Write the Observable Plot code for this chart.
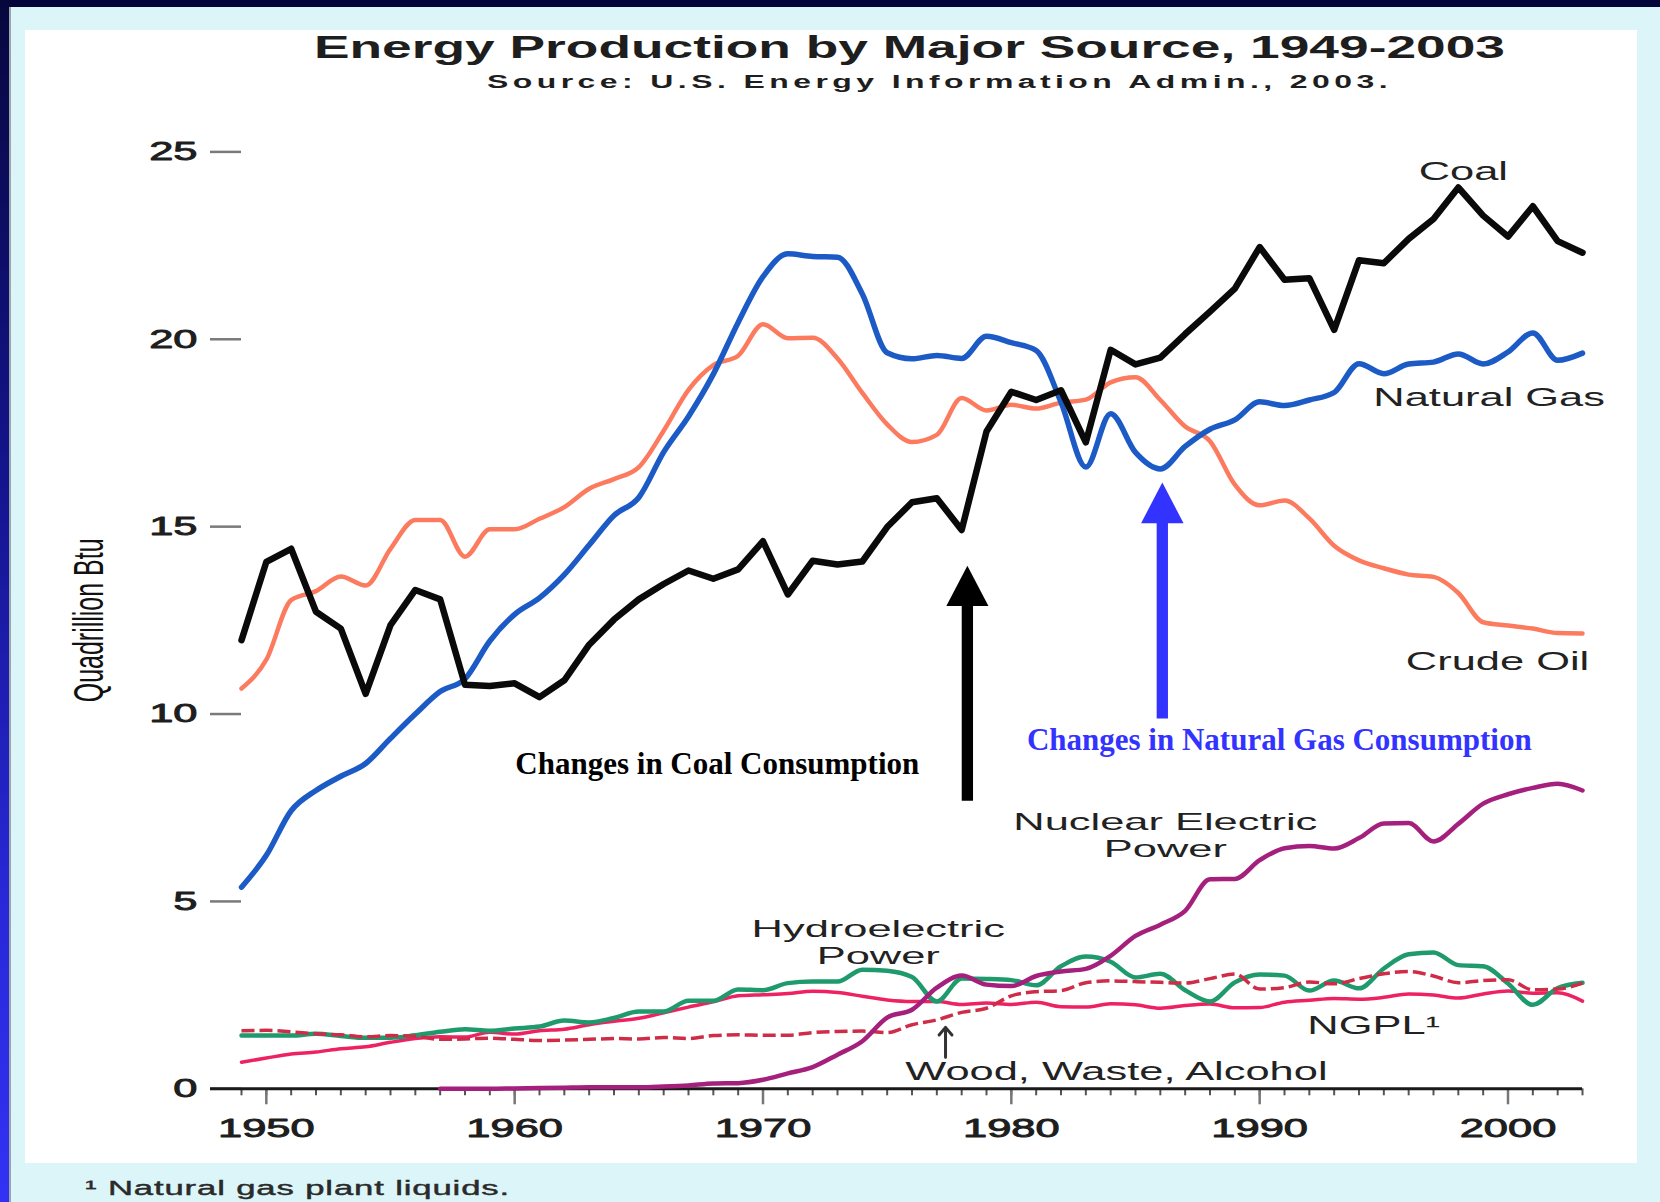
<!DOCTYPE html>
<html>
<head>
<meta charset="utf-8">
<script src="https://cdn.jsdelivr.net/npm/d3@7"></script>
<script src="https://cdn.jsdelivr.net/npm/@observablehq/plot@0.6"></script>
<style>
  html, body { margin: 0; padding: 0; }
  body { width: 1660px; height: 1202px; position: relative; overflow: hidden; background: #04043a;
         font-family: "Liberation Sans", Arial, Helvetica, sans-serif; }
  #leftbar { position: absolute; left: 0; top: 0; width: 9px; height: 1202px;
             background: linear-gradient(#07073e 0%, #14148e 40%, #2828d8 75%, #3232f4 100%); }
  #panel { position: absolute; left: 9px; top: 7px; width: 1651px; height: 1195px; background: #dbf5f8;
           border-left: 2px solid #9aa6a8; box-sizing: border-box; }
  #white { position: absolute; left: 25px; top: 30px; width: 1612px; height: 1133px; background: #ffffff; }
  .txt { position: absolute; white-space: nowrap; transform-origin: 0 50%; color: #1e1e1e; }
  #title { top: 32px; font-size: 31px; line-height: 31px; font-weight: bold; }
  #subtitle { top: 72.6px; font-size: 18px; line-height: 18px; font-weight: bold; letter-spacing: 2.5px; }
  #foot { top: 1178px; font-size: 20px; line-height: 20px; letter-spacing: 0.5px; color: #2a2a2a;
          -webkit-text-stroke: 0.4px #2a2a2a; }
  #chart { position: absolute; left: 25px; top: 110px; width: 1612px; height: 1052px; }
</style>
</head>
<body>
<div id="leftbar"></div>
<div id="panel"></div>
<div id="white"></div>
<div id="title" class="txt">Energy Production by Major Source, 1949-2003</div>
<div id="subtitle" class="txt">Source: U.S. Energy Information Admin., 2003.</div>
<div id="chart"></div>
<div id="foot" class="txt">¹ Natural gas plant liquids.</div>

<script>
// ---------------- data (quadrillion Btu) ----------------
const years = [1949,1950,1951,1952,1953,1954,1955,1956,1957,1958,
               1959,1960,1961,1962,1963,1964,1965,1966,1967,1968,
               1969,1970,1971,1972,1973,1974,1975,1976,1977,1978,
               1979,1980,1981,1982,1983,1984,1985,1986,1987,1988,
               1989,1990,1991,1992,1993,1994,1995,1996,1997,1998,
               1999,2000,2001,2002,2003];

const coal = [11.97,14.06,14.41,12.73,12.28,10.54,12.37,13.31,13.06,10.78,
              10.75,10.82,10.45,10.90,11.85,12.52,13.06,13.47,13.83,13.61,
              13.86,14.61,13.19,14.09,13.99,14.07,14.99,15.65,15.76,14.91,
              17.54,18.60,18.38,18.64,17.25,19.72,19.33,19.51,20.14,20.74,
              21.35,22.46,21.59,21.63,20.25,22.11,22.03,22.68,23.21,24.05,
              23.30,22.74,23.55,22.62,22.31];

const naturalGas = [5.38,6.23,7.42,7.96,8.34,8.68,9.35,10.00,10.60,10.94,
                    11.95,12.66,13.10,13.72,14.51,15.30,15.78,16.99,17.94,19.07,
                    20.45,21.67,22.28,22.21,22.19,21.21,19.64,19.48,19.57,19.49,
                    20.08,19.91,19.70,18.32,16.59,18.01,16.98,16.54,17.14,17.60,
                    17.85,18.33,18.23,18.38,18.58,19.35,19.08,19.34,19.39,19.61,
                    19.34,19.66,20.17,19.44,19.63];

const crudeOil = [10.68,11.45,13.04,13.28,13.67,13.43,14.41,15.18,15.18,14.20,
                  14.93,14.93,15.21,15.52,16.01,16.27,16.59,17.56,18.65,19.31,
                  19.56,20.40,20.03,20.04,19.49,18.57,17.73,17.26,17.45,18.43,
                  18.10,18.25,18.15,18.31,18.39,18.85,18.99,18.38,17.67,17.28,
                  16.12,15.57,15.70,15.22,14.49,14.10,13.89,13.72,13.66,13.23,
                  12.45,12.36,12.28,12.16,12.15];

const nuclear = [null,null,null,null,null,null,null,null,0.00,0.00,
                 0.00,0.01,0.02,0.03,0.04,0.04,0.04,0.06,0.09,0.14,
                 0.15,0.24,0.41,0.58,0.91,1.27,1.90,2.11,2.70,3.02,
                 2.78,2.74,3.01,3.13,3.20,3.55,4.08,4.38,4.75,5.59,
                 5.60,6.10,6.42,6.48,6.41,6.69,7.08,7.09,6.60,7.07,
                 7.61,7.86,8.03,8.14,7.96];

const hydro = [1.42,1.42,1.42,1.47,1.41,1.36,1.36,1.43,1.52,1.59,
               1.55,1.61,1.66,1.82,1.77,1.89,2.06,2.06,2.35,2.35,
               2.65,2.63,2.82,2.86,2.86,3.18,3.15,2.98,2.33,2.94,
               2.93,2.90,2.76,3.27,3.53,3.39,2.97,3.07,2.63,2.33,
               2.84,3.05,3.02,2.62,2.89,2.68,3.21,3.59,3.64,3.30,
               3.27,2.81,2.24,2.69,2.83];

const woodWaste = [1.55,1.56,1.52,1.47,1.44,1.39,1.42,1.40,1.32,1.33,
                   1.35,1.32,1.29,1.30,1.32,1.34,1.33,1.37,1.34,1.42,
                   1.44,1.43,1.43,1.50,1.53,1.54,1.50,1.71,1.84,2.04,
                   2.15,2.48,2.59,2.62,2.83,2.88,2.86,2.84,2.82,2.94,
                   3.06,2.66,2.70,2.85,2.80,2.94,3.07,3.13,3.01,2.83,
                   2.89,2.91,2.64,2.66,2.82];

const ngpl = [0.71,0.82,0.93,0.98,1.07,1.12,1.24,1.34,1.39,1.38,
              1.51,1.46,1.55,1.59,1.71,1.80,1.88,2.03,2.18,2.32,
              2.48,2.51,2.54,2.60,2.57,2.47,2.37,2.33,2.33,2.25,
              2.29,2.25,2.31,2.19,2.18,2.27,2.24,2.15,2.22,2.26,
              2.16,2.17,2.31,2.36,2.41,2.39,2.44,2.53,2.50,2.42,
              2.53,2.61,2.55,2.56,2.34];

const yTicks = [0, 5, 10, 15, 20, 25];
const xTickLabels = [1950, 1960, 1970, 1980, 1990, 2000];

// series labels (anchored in data units)
const labelText  = ["Coal", "Natural Gas", "Crude Oil", "Nuclear Electric\nPower", "Hydroelectric\nPower", "NGPL¹", "Wood, Waste, Alcohol"];
const labelYear  = [1998.2, 1999.24, 1999.58, 1986.2, 1974.64, 1994.59, 1984.23];
const labelValue = [24.47, 18.44, 11.41, 6.77, 3.92, 1.69, 0.45];

// annotations
const noteText  = ["Changes in Coal Consumption", "Changes in Natural Gas Consumption"];
const noteYear  = [1968.16, 1990.79];
const noteValue = [8.39, 9.04];
const arrowYear = [1978.23, 1986.08];
const arrowTail = [7.67, 9.87];
const arrowBase = [12.88, 15.09];
const arrowTip  = [13.96, 16.18];
const woodArrowYear = [1977.35];
const woodArrowFrom = [0.84];
const woodArrowTo   = [1.64];

// ---------------- chart ----------------
const triangleUp = {
  draw(context, size) {
    const s = Math.sqrt(size / Math.PI);
    context.moveTo(0, -s);
    context.lineTo(s * 1.04, s);
    context.lineTo(-s * 1.04, s);
    context.closePath();
  }
};

const singleIdx = labelText.map((d, i) => i).filter(i => !labelText[i].includes("\n"));
const multiIdx  = labelText.map((d, i) => i).filter(i => labelText[i].includes("\n"));
const noteIdx = noteText.map((d, i) => i);
const arrowColors = ["#000000", "#3333ff"];
const PX_PER_UNIT = 37.48;

function series(values, opts) {
  return Plot.line(years, {x: years, y: values, strokeLinejoin: "round", strokeLinecap: "round", ...opts});
}

const chart = Plot.plot({
  width: 1612,
  height: 1052,
  marginLeft: 216,
  marginRight: 55,
  marginTop: 41.4,
  marginBottom: 73.7,
  style: {background: "transparent", fontFamily: "'Liberation Sans', Arial, Helvetica, sans-serif", overflow: "visible"},
  x: {domain: [1949, 2003]},
  y: {domain: [0, 25]},
  marks: [
    Plot.axisY({ticks: yTicks, tickSize: 31, tickPadding: 13, fontSize: 26, tickFormat: d => String(d),
                stroke: "#7a7a7a", strokeWidth: 2.5, fill: "#1e1e1e", textStroke: "#1e1e1e", textStrokeWidth: 0.9, label: null}),
    Plot.axisX({ticks: years, tickSize: 7, stroke: "#555", strokeWidth: 2, fill: "none", label: null}),
    Plot.axisX({ticks: xTickLabels, tickSize: 16, tickPadding: 14, fontSize: 26, tickFormat: d => String(d),
                stroke: "#777", strokeWidth: 2.5, fill: "#1e1e1e", textStroke: "#1e1e1e", textStrokeWidth: 0.9, label: null}),
    Plot.ruleY([0], {insetLeft: -31, stroke: "#1a1a1a", strokeWidth: 3}),
    Plot.text(["Quadrillion Btu"], {frameAnchor: "left", dx: -139, rotate: -90, fontSize: 25,
                textAnchor: "middle", lineAnchor: "bottom", fill: "#111", ariaDescription: "ylabel"}),

    series(ngpl,      {stroke: "#ee2262", strokeWidth: 3.5, curve: "monotone-x"}),
    series(hydro,     {stroke: "#1f9a6c", strokeWidth: 4.5, curve: "monotone-x"}),
    series(woodWaste, {stroke: "#cf2c48", strokeWidth: 3.5, strokeDasharray: "13,5", strokeLinecap: "butt", curve: "monotone-x"}),
    series(nuclear,   {stroke: "#a51f7d", strokeWidth: 4.5, curve: "monotone-x"}),
    series(crudeOil,  {stroke: "#fc7b5f", strokeWidth: 4.5, curve: "monotone-x"}),
    series(naturalGas,{stroke: "#1c5bc6", strokeWidth: 5.5, curve: "monotone-x"}),
    series(coal,      {stroke: "#0a0a0a", strokeWidth: 6.5}),

    Plot.text(singleIdx, {x: i => labelYear[i], y: i => labelValue[i], text: i => labelText[i],
                    fontSize: 26, fill: "#222", textAnchor: "middle", lineAnchor: "middle",
                    ariaDescription: "stretch"}),
    Plot.text(multiIdx, {x: i => labelYear[i], y: i => labelValue[i], text: i => labelText[i],
                    fontSize: 24, lineHeight: 1.12, fill: "#222", textAnchor: "middle", lineAnchor: "middle",
                    ariaDescription: "stretch-small"}),

    Plot.arrow(woodArrowYear, {x1: d => d, x2: d => d, y1: (d, i) => woodArrowFrom[i], y2: (d, i) => woodArrowTo[i],
                               stroke: "#333", strokeWidth: 3, headLength: 14, headAngle: 80}),

    ...noteIdx.map(i => Plot.ruleX([i], {x: arrowYear[i], y1: arrowTail[i], y2: arrowBase[i] + 0.1,
                                          stroke: arrowColors[i], strokeWidth: 11.3})),
    ...noteIdx.map(i => Plot.dot([i], {x: arrowYear[i], y: (arrowTip[i] + arrowBase[i]) / 2,
                                        r: (arrowTip[i] - arrowBase[i]) * PX_PER_UNIT / 2,
                                        symbol: triangleUp, fill: arrowColors[i], stroke: "none"})),
    Plot.text(noteIdx, {x: i => noteYear[i], y: i => noteValue[i], text: i => noteText[i],
                        fill: i => arrowColors[i], fontSize: 31, fontWeight: "bold",
                        fontFamily: "'Liberation Serif', 'Times New Roman', serif",
                        textAnchor: "middle", lineAnchor: "bottom", ariaDescription: "annotation"})
  ]
});

document.getElementById("chart").appendChild(chart);

// The original artwork is horizontally stretched: reproduce that on the sans-serif texts.
const STRETCH = 1.67;
d3.select(chart).selectAll("text").each(function () {
  const g = this.closest("g[aria-description]");
  const desc = g ? g.getAttribute("aria-description") : "";
  if (desc === "annotation") return;
  if (desc === "ylabel") {
    const t = this.getAttribute("transform") || "";
    this.setAttribute("transform", t + " scale(1," + STRETCH + ")");
    return;
  }
  const k = desc === "stretch-small" ? STRETCH * 26 / 24 : STRETCH;
  const parts = Array.from(this.querySelectorAll("tspan"));
  const targets = parts.length ? parts : [this];
  targets.forEach(el => {
    const L = el.getComputedTextLength();
    if (L > 0) {
      el.setAttribute("textLength", L * k);
      el.setAttribute("lengthAdjust", "spacingAndGlyphs");
    }
  });
});

// HTML texts: fit to the widths they occupy in the original
function fit(id, left, width) {
  const el = document.getElementById(id);
  el.style.left = left + "px";
  const w = el.getBoundingClientRect().width;
  el.style.transform = "scaleX(" + (width / w) + ")";
}
fit("title", 314, 1191);
fit("subtitle", 487, 905);
fit("foot", 85, 425);
</script>
</body>
</html>
